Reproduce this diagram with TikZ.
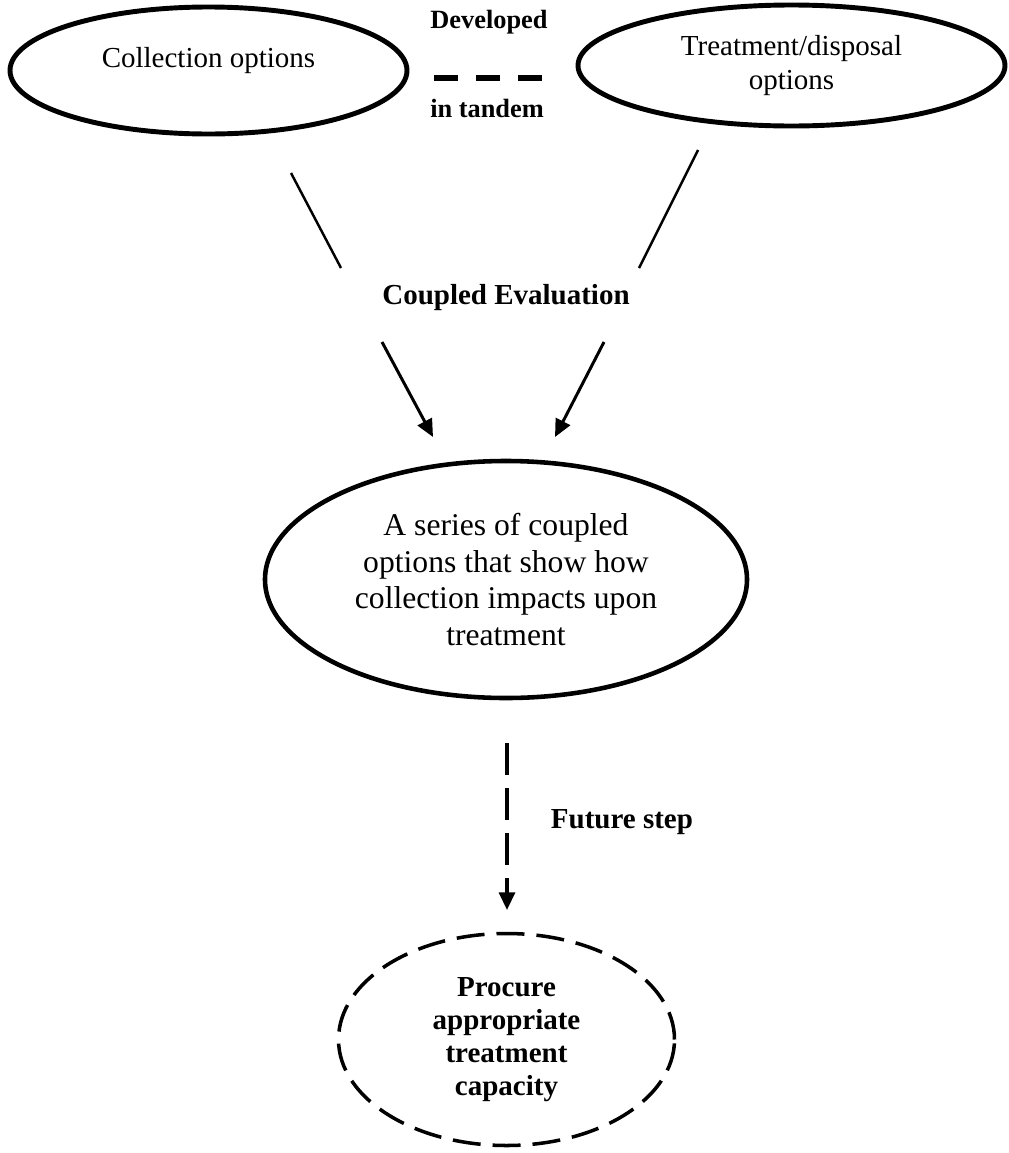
\documentclass[tikz,border=0pt]{standalone}
\usepackage{fontspec}
\setmainfont{Liberation Serif}
\usetikzlibrary{shapes.geometric, arrows.meta}

\begin{document}
\begin{tikzpicture}[
	oval/.style={ellipse, draw, line width=2.8pt, inner sep=0pt, align=center, font=\fontsize{16.5}{19.3}\selectfont},
	futureoval/.style={ellipse, draw, line width=2pt, dash pattern=on 0.56cm off 0.24cm, inner sep=0pt, align=center, font=\fontsize{16.5}{18.8}\selectfont\bfseries},
	link/.style={line width=1.4pt},
	flow/.style={line width=1.7pt, -{Triangle[length=10pt, width=9pt]}},
	boldlabel/.style={font=\fontsize{16.5}{19}\selectfont\bfseries},
	smalllabel/.style={font=\fontsize{15}{18}\selectfont\bfseries}
]
	\useasboundingbox (0, 0) rectangle (20.18, -23.06);

	% Define the nodes with specific positions
	\node[oval, minimum width=7.94cm, minimum height=2.54cm,
		label={[yshift=0.2cm, font=\fontsize{16.5}{19.3}\selectfont]center:Collection options}] (collect) at (4.17, -1.41) {};
	\node[oval, minimum width=8.54cm, minimum height=2.42cm] (treat) at (15.83, -1.31) {Treatment/disposal\\options};
	\node[oval, line width=2.6pt, minimum width=9.64cm, minimum height=4.74cm, font=\fontsize{18}{21}\selectfont] (series) at (10.12, -11.59)
		{A series of coupled\\options that show how\\collection impacts upon\\treatment};
	\node[futureoval, minimum width=6.72cm, minimum height=4.24cm] (procure) at (10.13, -20.79)
		{Procure\\appropriate\\treatment\\capacity};

	% Labels
	\node[smalllabel] (developed) at (9.78, -0.44) {Developed};
	\node[smalllabel] (tandem) at (9.74, -2.16) {in tandem};
	\node[boldlabel] (eval) at (10.12, -5.96) {Coupled Evaluation};
	\node[boldlabel] (future) at (12.44, -16.44) {Future step};

	% Free ends of the connectors
	\coordinate (tandemL) at (8.68, -1.56);
	\coordinate (tandemR) at (10.86, -1.56);
	\coordinate (collectFoot) at (5.82, -3.46);
	\coordinate (evalLeftIn) at (6.82, -5.36);
	\coordinate (evalLeftOut) at (7.64, -6.84);
	\coordinate (seriesLeft) at (8.66, -8.74);
	\coordinate (treatFoot) at (13.96, -3.00);
	\coordinate (evalRightIn) at (12.78, -5.36);
	\coordinate (evalRightOut) at (12.08, -6.84);
	\coordinate (seriesRight) at (11.10, -8.74);
	\coordinate (seriesFoot) at (10.14, -14.86);
	\coordinate (procureTop) at (10.14, -18.20);

	% Draw the connectors
	\draw[line width=3.7pt, dash pattern=on 0.48cm off 0.36cm] (tandemL) -- (tandemR);
	\draw[link] (collectFoot) -- (evalLeftIn);
	\draw[link] (treatFoot) -- (evalRightIn);
	\draw[flow] (evalLeftOut) -- (seriesLeft);
	\draw[flow] (evalRightOut) -- (seriesRight);
	\draw[flow, line width=1.9pt, dash pattern=on 0.64cm off 0.26cm] (seriesFoot) -- (procureTop);
\end{tikzpicture}
\end{document}
